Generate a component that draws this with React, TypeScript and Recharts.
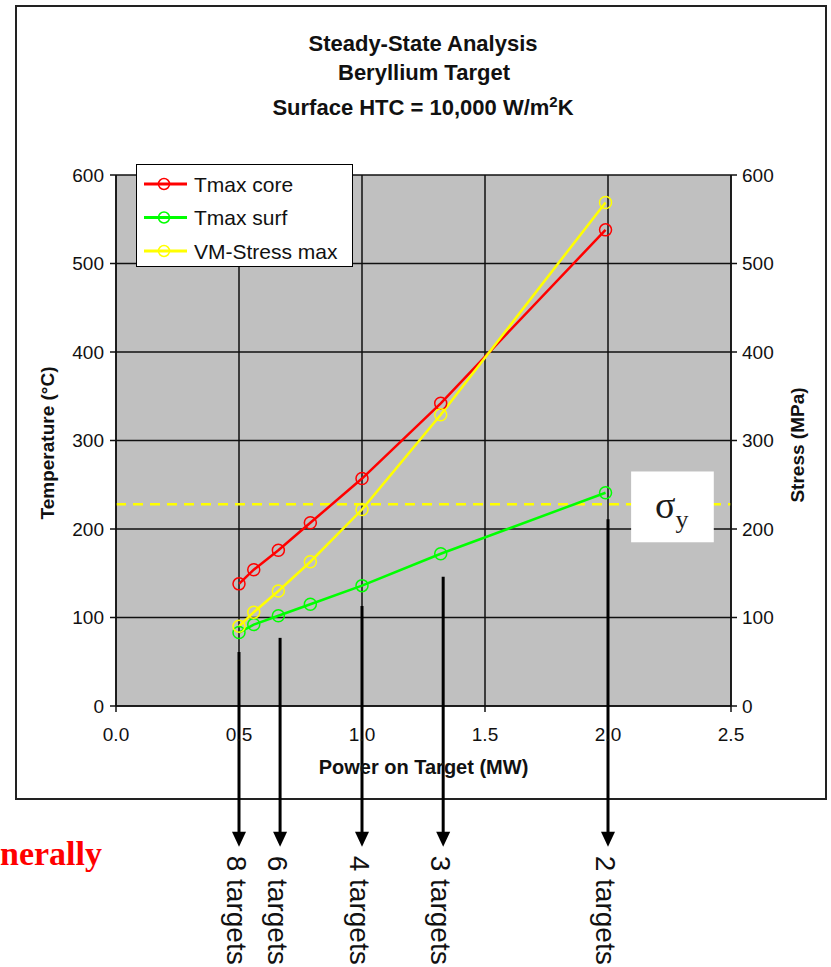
import React from "react";
import {
  CartesianGrid,
  Legend,
  Line,
  LineChart,
  ReferenceArea,
  ReferenceLine,
  XAxis,
  YAxis
} from "recharts";

// values
const powerMW = [0.5, 0.56, 0.66, 0.79, 1.0, 1.32, 1.99];
const tmaxCore = [138, 154, 176, 207, 257, 342, 538];
const tmaxSurf = [83, 92, 102, 115, 136, 172, 241];
const vmStress = [90, 106, 130, 163, 222, 329, 569];

const xTicks = [0, 0.5, 1, 1.5, 2, 2.5];
const yTicks = [0, 100, 200, 300, 400, 500, 600];

const yieldStress = 228;

const targetLabels = ["8 targets", "6 targets", "4 targets", "3 targets", "2 targets"];
const targetPower = [0.5, 0.667, 1.0, 1.33, 2.0];
const arrowFrom = [61, 77, 113, 146, 211];
const arrowTo = -159;

const data = powerMW.map((p, i) => ({
  power: p,
  core: tmaxCore[i],
  surf: tmaxSurf[i],
  stress: vmStress[i]
}));

const FONT = "'Liberation Sans', Arial, sans-serif";
const INK = "#111";

function Arrow(props: any) {
  const { x1, y1, x2, y2, label } = props;
  return (
    <g>
      <line x1={x1} y1={y1} x2={x2} y2={y2 - 12} stroke="#000" strokeWidth={3} />
      <polygon points={`${x2 - 7},${y2 - 15} ${x2 + 7},${y2 - 15} ${x2},${y2}`} fill="#000" />
      <text
        x={x2 - 3}
        y={y2 + 9}
        transform={`rotate(90, ${x2 - 3}, ${y2 + 9})`}
        fontFamily={FONT}
        fontSize={28}
        fill={INK}
        dominantBaseline="central"
      >
        {label}
      </text>
    </g>
  );
}

function SigmaBox(props: any) {
  const { x, y, width, height } = props;
  return (
    <g>
      <rect x={x} y={y} width={width} height={height} fill="#fff" />
      <text x={x + 24} y={y + 47} fontFamily="'Liberation Serif', serif" fontSize={38} fill="#1a1a1a">
        σ
        <tspan fontSize={26} dy={10}>
          y
        </tspan>
      </text>
    </g>
  );
}

function LegendBox(props: any) {
  const items = props.payload ?? [];
  return (
    <div
      style={{
        width: 217,
        height: 103,
        boxSizing: "border-box",
        border: "1.5px solid #000",
        background: "#fff"
      }}
    >
      <svg width={214} height={100}>
        {items.map((item: any, i: number) => {
          const cy = 19 + i * 33.5;
          return (
            <g key={item.value}>
              <line x1={7} y1={cy} x2={50} y2={cy} stroke={item.color} strokeWidth={3} />
              <circle cx={27} cy={cy} r={5.5} fill="none" stroke={item.color} strokeWidth={1.5} />
              <text x={57} y={cy} dominantBaseline="central" fontFamily={FONT} fontSize={21} fill={INK}>
                {item.value}
              </text>
            </g>
          );
        })}
      </svg>
    </div>
  );
}

export default function App() {
  return (
    <div
      style={{
        position: "absolute",
        left: 0,
        top: 0,
        width: 831,
        height: 967,
        overflow: "hidden",
        background: "#fff"
      }}
    >
      <svg width={831} height={967} style={{ position: "absolute", left: 0, top: 0 }}>
        <rect x={16} y={6} width={810} height={793} fill="none" stroke="#222" strokeWidth={2} />
        <g fontFamily={FONT} fontWeight="bold" fontSize={22} fill={INK} textAnchor="middle">
          <text x={423} y={51}>Steady-State Analysis</text>
          <text x={424} y={80}>Beryllium Target</text>
          <text x={423} y={115}>
            Surface HTC = 10,000 W/m
            <tspan fontSize={15} dy={-8}>
              2
            </tspan>
            <tspan dy={8}>K</tspan>
          </text>
        </g>
        <text
          x={0}
          y={865}
          fontFamily="'Liberation Serif', serif"
          fontWeight="bold"
          fontSize={34}
          fill="#ff0000"
        >
          nerally
        </text>
      </svg>

      <LineChart
        width={831}
        height={967}
        data={data}
        margin={{ top: 175, right: 0, bottom: 193, left: 0 }}
        style={{ position: "relative" }}
      >
        <CartesianGrid stroke={INK} strokeWidth={1.5} fill="#c0c0c0" fillOpacity={1} />
        <XAxis
          dataKey="power"
          type="number"
          domain={[0, 2.5]}
          ticks={xTicks}
          interval={0}
          tickFormatter={(v: number) => v.toFixed(1)}
          stroke={INK}
          strokeWidth={1.5}
          tick={{ fill: INK, fontSize: 19, fontFamily: FONT }}
          tickSize={6}
          tickMargin={16}
          height={68}
          label={{
            value: "Power on Target (MW)",
            position: "insideBottom",
            offset: 0,
            fill: INK,
            fontSize: 20,
            fontWeight: "bold",
            fontFamily: FONT
          }}
        />
        <YAxis
          domain={[0, 600]}
          ticks={yTicks}
          interval={0}
          width={116}
          stroke={INK}
          strokeWidth={1.5}
          tick={{ fill: INK, fontSize: 19, fontFamily: FONT }}
          tickSize={6}
          tickMargin={6}
          label={() => (
            <text
              x={47}
              y={443}
              transform="rotate(-90, 47, 443)"
              textAnchor="middle"
              dominantBaseline="central"
              fontFamily={FONT}
              fontWeight="bold"
              fontSize={19}
              fill={INK}
            >
              Temperature (°C)
            </text>
          )}
        />
        <YAxis
          yAxisId="right"
          orientation="right"
          domain={[0, 600]}
          ticks={yTicks}
          interval={0}
          width={100}
          stroke={INK}
          strokeWidth={1.5}
          tick={{ fill: INK, fontSize: 19, fontFamily: FONT }}
          tickSize={6}
          tickMargin={5}
          label={() => (
            <text
              x={797}
              y={445}
              transform="rotate(-90, 797, 445)"
              textAnchor="middle"
              dominantBaseline="central"
              fontFamily={FONT}
              fontWeight="bold"
              fontSize={19}
              fill={INK}
            >
              Stress (MPa)
            </text>
          )}
        />
        <ReferenceLine
          y={yieldStress}
          stroke="#ffff00"
          strokeWidth={2.5}
          strokeDasharray="10 7"
          ifOverflow="visible"
        />
        <Line
          dataKey="core"
          name="Tmax core"
          type="linear"
          stroke="#ff0000"
          strokeWidth={2.5}
          dot={{ r: 6, fill: "none", stroke: "#ff0000", strokeWidth: 1.5 }}
          activeDot={false}
          isAnimationActive={false}
        />
        <Line
          dataKey="surf"
          name="Tmax surf"
          type="linear"
          stroke="#00ff00"
          strokeWidth={2.5}
          dot={{ r: 6, fill: "none", stroke: "#00ff00", strokeWidth: 1.5 }}
          activeDot={false}
          isAnimationActive={false}
        />
        <Line
          dataKey="stress"
          yAxisId="right"
          name="VM-Stress max"
          type="linear"
          stroke="#ffff00"
          strokeWidth={2.5}
          dot={{ r: 6, fill: "none", stroke: "#ffff00", strokeWidth: 1.5 }}
          activeDot={false}
          isAnimationActive={false}
        />
        <ReferenceArea
          x1={2.094}
          x2={2.43}
          y1={185}
          y2={265}
          ifOverflow="visible"
          zIndex={450}
          shape={(p: any) => <SigmaBox {...p} />}
        />
        {targetPower.map((p, i) => (
          <ReferenceLine
            key={targetLabels[i]}
            segment={[
              { x: p, y: arrowFrom[i] },
              { x: p, y: arrowTo }
            ]}
            ifOverflow="visible"
            zIndex={1500}
            stroke="#000"
            strokeWidth={3}
            shape={(sp: any) => <Arrow {...sp} label={targetLabels[i]} />}
          />
        ))}
        <Legend
          layout="vertical"
          align="center"
          verticalAlign="middle"
          width={217}
          height={103}
          wrapperStyle={{ left: 136, top: 164 }}
          content={(lp: any) => <LegendBox {...lp} />}
        />
      </LineChart>
    </div>
  );
}
